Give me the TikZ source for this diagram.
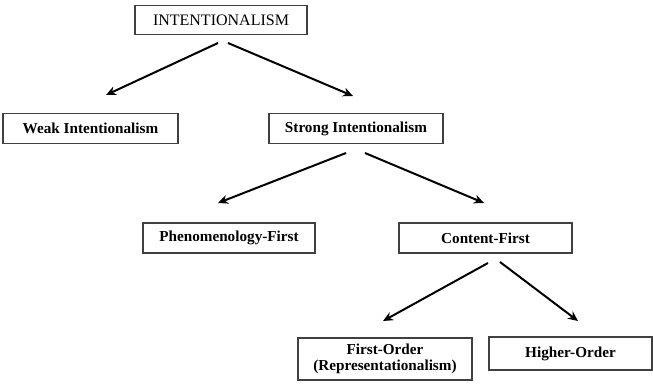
\documentclass[tikz,border=0pt]{standalone}
\usepackage{fontspec}
\setmainfont{Liberation Serif}
\usetikzlibrary{arrows.meta}
\begin{document}
\begin{tikzpicture}[x=1pt,y=-1pt,
  box/.style={draw=black!75,line width=1.3pt,rectangle,inner sep=0pt,align=center,font=\fontsize{15.2}{16.5}\selectfont\bfseries},
  arr/.style={line width=2pt,-{Stealth[length=10pt,width=9pt]}}]
\useasboundingbox[fill=white] (0,0) rectangle (653,390);
\node[box,font=\fontsize{16}{17}\selectfont,minimum width=172pt,minimum height=29pt] (root) at (221,20) {INTENTIONALISM};
\node[box,minimum width=175pt,minimum height=30pt] (weak) at (90.5,128.5) {Weak Intentionalism};
\node[box,minimum width=174pt,minimum height=30pt] (strong) at (356,128.5) {Strong Intentionalism};
\node[box,minimum width=172pt,minimum height=30pt] (phen) at (229,238) {Phenomenology-First};
\node[box,minimum width=173pt,minimum height=30pt] (cont) at (485.5,238) {Content-First};
\node[box,minimum width=174pt,minimum height=42pt] (first) at (385,359) {First-Order\\(Representationalism)};
\node[box,minimum width=163pt,minimum height=33pt] (higher) at (570.5,353.5) {Higher-Order};
\coordinate (r1) at (218,43); \coordinate (r1e) at (106,95);
\coordinate (r2) at (228,43); \coordinate (r2e) at (353,96);
\coordinate (s1) at (346,153); \coordinate (s1e) at (218,203);
\coordinate (s2) at (365,153); \coordinate (s2e) at (484,203);
\coordinate (c1) at (488,263); \coordinate (c1e) at (383,321);
\coordinate (c2) at (500,262); \coordinate (c2e) at (578,321);
\draw[arr] (r1) -- (r1e);
\draw[arr] (r2) -- (r2e);
\draw[arr] (s1) -- (s1e);
\draw[arr] (s2) -- (s2e);
\draw[arr] (c1) -- (c1e);
\draw[arr] (c2) -- (c2e);
\end{tikzpicture}
\end{document}
